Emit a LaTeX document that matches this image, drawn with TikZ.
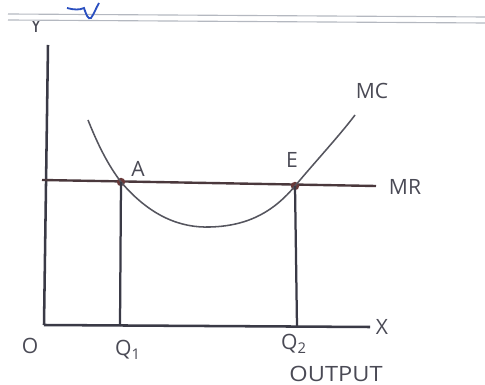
\documentclass[tikz,border=0pt]{standalone}
\usepackage{fontspec}
\setmainfont{Open Sans}
\usepackage{xcolor}
\usepackage{tikz}
\usetikzlibrary{positioning, calc}
\definecolor{inkline}{HTML}{3a3a46}
\definecolor{inkcurve}{HTML}{55555e}
\definecolor{inkmr}{HTML}{4a383c}
\definecolor{inkdot}{HTML}{6a3a3a}
\definecolor{inktext}{HTML}{4a4a55}
\definecolor{ruleline}{HTML}{b4b8c0}
\definecolor{bluepen}{HTML}{2a4fc0}

\begin{document}
\begin{tikzpicture}[
    x=0.025cm, y=-0.025cm,
    axis/.style={draw=inkline, line width=1.8pt},
    drop/.style={draw=inkline, line width=1.6pt},
    mrline/.style={draw=inkmr, line width=1.7pt},
    mccurve/.style={draw=inkcurve, line width=1.1pt},
    pt/.style={circle, fill=inkdot, inner sep=0pt, minimum size=6pt},
    lbl/.style={text=inktext, font=\fontsize{15}{17}\selectfont, inner sep=1pt},
    wide/.style={text=inktext, font=\fontsize{15}{17}\selectfont, inner sep=1pt, xscale=1.12},
]
\useasboundingbox (0,0) rectangle (485,385);

% Paper rule and pen mark
\draw[ruleline, line width=0.8pt] (8,14) -- (485,17);
\draw[ruleline, line width=0.8pt] (8,20) -- (485,23);
\draw[bluepen, line width=1.3pt] (67,8) .. controls (74,10) and (80,10) .. (84,8)
    .. controls (86,14) and (88,20) .. (91,18) .. controls (94,14) and (96,8) .. (99,3);

% Axes
\coordinate (O) at (44,325);
\coordinate (ytop) at (48,45);
\coordinate (xend) at (370,327);
\draw[axis] (O) -- (ytop);
\draw[axis] (O) -- (xend);
\begin{scope}
    \clip (20,22) rectangle (55,40);
    \node[lbl] (ylab) at (36,25) {Y};
\end{scope}
\node[lbl] (xlab) at (382,327) {X};
\node[lbl] (olab) at (30,346) {O};

% MR line
\coordinate (mrstart) at (42,180);
\coordinate (mrend) at (376,186);
\draw[mrline] (mrstart) -- (mrend);
\node[lbl] (mrlab) at (405,187) {MR};

% Equilibrium points
\node[pt] (A) at (121,182) {};
\node[pt] (E) at (295,186) {};
\node[lbl] (alab) at (138,169) {A};
\node[lbl] (elab) at (292,160) {E};

% MC curve
\draw[mccurve] (88,120) .. controls (98,145) and (108,165) .. (A.center)
    .. controls (150,216) and (180,228) .. (210,227)
    .. controls (250,226) and (275,210) .. (E.center)
    .. controls (315,162) and (340,135) .. (355,115);
\node[lbl] (mclab) at (372,91) {MC};

% Drop lines
\coordinate (q1) at (120,326);
\coordinate (q2) at (297,327);
\draw[drop] (A.center) -- (q1);
\draw[drop] (E.center) -- (q2);
\node[lbl] (q1lab) at (128,350) {Q\textsubscript{1}};
\node[lbl] (q2lab) at (294,344) {Q\textsubscript{2}};
\node[wide] (outlab) at (336,374) {OUTPUT};

\end{tikzpicture}
\end{document}
